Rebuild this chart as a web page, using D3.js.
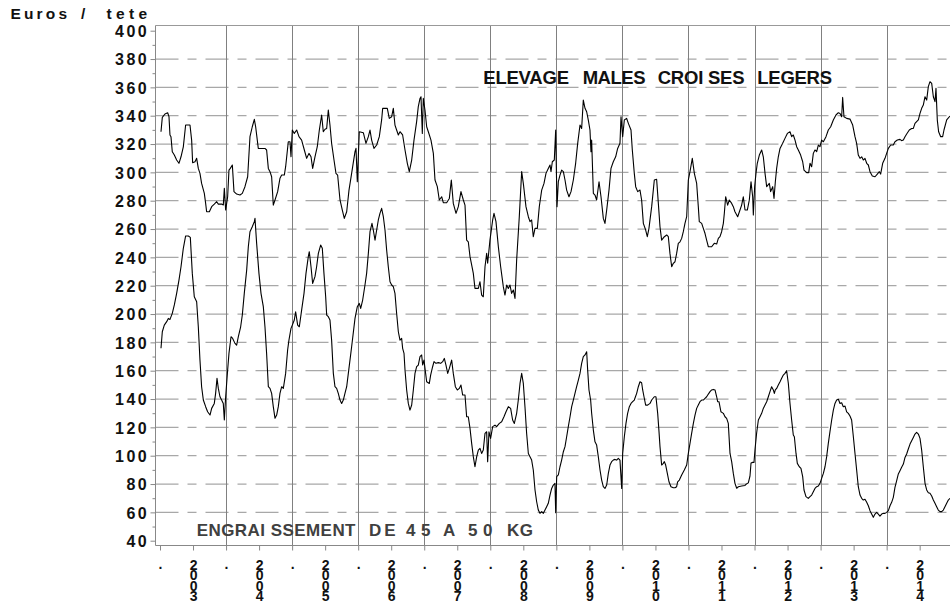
<!DOCTYPE html>
<html><head><meta charset="utf-8">
<script src="https://cdn.jsdelivr.net/npm/d3@7"></script>
<style>
html,body{margin:0;padding:0;background:#fff;}
svg{display:block;font-family:"Liberation Sans",Arial,sans-serif;}
</style></head><body>
<svg id="chart" width="950" height="606"></svg>
<script>
// ---------------- DATA ----------------
const upperDates = [
2003.015,2003.035,2003.075,2003.116,2003.136,2003.151,2003.166,2003.186,2003.217,2003.252,2003.287,2003.318,2003.353,2003.388,2003.454,2003.479,2003.494,2003.530,2003.555,2003.580,2003.605,2003.630,2003.671,2003.691,2003.706,2003.747,2003.782,2003.822,2003.858,2003.883,2003.933,2003.958,2003.974,2003.994,
2004.024,2004.044,2004.064,2004.095,2004.120,2004.160,2004.211,2004.246,2004.286,2004.327,2004.362,2004.397,2004.428,2004.448,2004.488,2004.529,2004.589,2004.614,2004.640,2004.665,2004.690,2004.715,2004.741,2004.781,2004.816,2004.842,2004.882,2004.902,2004.942,2004.968,2004.983,
2005.003,2005.033,2005.069,2005.104,2005.144,2005.185,2005.220,2005.255,2005.286,2005.311,2005.346,2005.381,2005.412,2005.447,2005.472,2005.498,2005.523,2005.548,2005.573,2005.598,2005.634,2005.664,2005.689,2005.725,2005.760,2005.790,2005.826,2005.861,2005.901,2005.952,2005.967,2005.987,
2006.017,2006.078,2006.118,2006.154,2006.179,2006.204,2006.239,2006.280,2006.320,2006.355,2006.371,2006.441,2006.471,2006.507,2006.532,2006.557,2006.582,2006.608,2006.633,2006.673,2006.709,2006.744,2006.774,2006.810,2006.845,2006.885,2006.910,2006.936,2006.951,2006.971,2006.986,
2007.011,2007.037,2007.062,2007.102,2007.138,2007.163,2007.198,2007.228,2007.264,2007.289,2007.339,2007.380,2007.410,2007.440,2007.481,2007.516,2007.556,2007.592,2007.617,2007.642,2007.667,2007.693,2007.723,2007.743,2007.768,2007.819,2007.844,2007.869,2007.894,2007.920,2007.945,2007.960,2007.995,
2008.036,2008.056,2008.086,2008.122,2008.157,2008.197,2008.222,2008.248,2008.273,2008.298,2008.323,2008.349,2008.374,2008.399,2008.439,2008.475,2008.500,2008.540,2008.576,2008.601,2008.626,2008.651,2008.677,2008.712,2008.742,2008.778,2008.813,2008.843,2008.878,2008.904,2008.919,2008.939,2008.969,2008.990,
2009.010,2009.030,2009.055,2009.080,2009.106,2009.131,2009.156,2009.191,2009.222,2009.257,2009.292,2009.323,2009.358,2009.383,2009.408,2009.434,2009.459,2009.484,2009.509,2009.524,2009.534,2009.560,2009.585,2009.610,2009.646,2009.676,2009.711,2009.736,2009.762,2009.797,2009.827,2009.862,2009.898,2009.928,2009.963,2009.979,
2010.004,2010.029,2010.064,2010.090,2010.130,2010.150,2010.180,2010.201,2010.231,2010.266,2010.291,2010.317,2010.352,2010.377,2010.402,2010.443,2010.483,2010.518,2010.544,2010.569,2010.594,2010.635,2010.670,2010.695,2010.720,2010.746,2010.771,2010.796,2010.821,2010.846,2010.872,2010.897,2010.922,2010.947,2010.973,2010.998,
2011.023,2011.058,2011.089,2011.124,2011.149,2011.164,2011.200,2011.225,2011.250,2011.275,2011.301,2011.351,2011.391,2011.427,2011.452,2011.477,2011.502,2011.528,2011.543,2011.563,2011.593,2011.618,2011.654,2011.679,2011.704,2011.745,2011.780,2011.805,2011.830,2011.856,2011.891,2011.921,2011.947,2011.972,2011.982,
2012.002,2012.022,2012.042,2012.073,2012.108,2012.133,2012.159,2012.184,2012.224,2012.244,2012.275,2012.295,2012.315,2012.335,2012.360,2012.386,2012.426,2012.461,2012.497,2012.537,2012.562,2012.587,2012.613,2012.638,2012.663,2012.698,2012.729,2012.749,2012.789,2012.820,2012.840,2012.865,2012.890,2012.915,2012.941,2012.966,2012.991,
2013.016,2013.042,2013.082,2013.117,2013.153,2013.193,2013.233,2013.269,2013.294,2013.319,2013.334,2013.354,2013.395,2013.445,2013.486,2013.521,2013.546,2013.571,2013.597,2013.622,2013.647,2013.672,2013.698,2013.723,2013.748,2013.783,2013.824,2013.859,2013.889,2013.909,2013.940,2013.975,
2014.000,2014.026,2014.061,2014.101,2014.126,2014.162,2014.202,2014.227,2014.253,2014.278,2014.303,2014.343,2014.379,2014.404,2014.429,2014.454,2014.480,2014.505,2014.530,2014.555,2014.581,2014.606,2014.631,2014.656,2014.682,2014.707,2014.732,2014.747,2014.767,2014.787,2014.818,2014.848,2014.868,2014.909,2014.959
];
const upperValues = [
328.7,338.8,341.2,342.1,339.3,326.4,325.2,314.6,312.2,308.7,306.4,311,318,333.4,333.4,322.8,306.8,307.5,309.9,302.8,299.3,292.2,285.2,278.1,272.2,272.2,275.8,277.6,279.3,277.6,277.6,277,288.7,273.4,
282.8,301.6,302.8,305.2,286.4,284.7,284,285.2,289.9,296.9,325.2,332.2,337.4,332.2,316.9,316.9,316.9,315.8,302.8,300.5,296.9,276.9,280.5,286.4,295.8,298.1,298.1,304,321.6,321.6,311,
329.9,327.5,329.9,325.2,322.8,315.8,309.9,313.4,311,302.8,311,318.1,329.9,340.5,328.7,330.4,331,344,333.4,320.5,308.7,299.3,298.1,280.5,273.4,267.5,272.2,287.5,299.3,314.6,317,293.4,
328.7,328,320.5,325.2,329.9,322.8,316.9,319.3,325.2,337,345.2,345.2,338.1,339.3,345.2,333.4,329.9,326.4,328.7,326.4,315.8,306.4,300.5,308.7,322.8,335.8,346.4,352.2,353.4,327.5,352.2,
344,332.2,328.7,322.8,313.4,294.6,289.9,280.5,282.8,278.6,278.6,281.6,294.6,278.1,271.1,275.8,286.4,280.5,276.9,252.2,251,240.5,233.4,228.7,218.1,218.1,222.8,213.4,212.2,233.4,242.8,235.8,252.2,
266.4,271.1,265.2,247.5,233.4,219.3,213.4,220.5,218.1,220.5,214.6,217,211,238.1,268.7,300.5,292.2,275.8,268.7,265.2,266.4,254.6,260.5,260.5,275.8,287.5,292.2,299.3,302.8,305.2,300.5,307.5,308.7,329.9,
275.8,293.4,298.1,301.6,300.5,294.6,287.5,282.8,286.4,294.6,306.4,320.5,333.4,331,351,345.2,342.8,336.9,329.9,314.6,322.8,285.2,284,280.5,293.4,282.8,267.5,264,273.4,287.5,302.8,307.5,311,316.9,320.5,339.3,
325.2,337,338.1,334.6,329.9,315.8,299.3,289.9,286.4,287.5,280.5,264,259.3,254.6,260.5,275.8,294.6,295.1,278.1,261.6,252.2,254.6,255.8,254.6,242.8,233.4,235.8,236.9,242.8,249.9,251,253.4,258.1,264,268.7,294.6,
300.5,309.9,299.3,292.2,275.8,265.2,264,260.5,257,252.2,247.5,247.5,249.9,249.4,253.4,254.6,258.1,264,271.1,282.8,276.9,280.5,278.1,275.8,272.2,268.7,273.4,276.9,282.8,273.4,273.4,280.5,293.4,282.8,269.9,
289.9,299.3,306.4,312.2,315.8,311,299.3,289.9,292.2,286.4,289.9,281.6,293.4,302.8,311,316.9,320.5,324,327.5,328.7,325.2,326.4,322.8,318.1,315.8,312.2,307.5,301.6,299.8,299.8,306.4,304,313.4,315.8,314.6,319.3,318.1,
322.8,321.6,325.2,329.9,332.2,337,340.5,342.1,341.6,339.3,352.9,339.3,338.1,337.6,333.4,325.2,320.5,312.2,309.9,311,308.7,309.9,306.4,305.2,300.5,297.4,296.9,298.8,300.5,298.8,306.4,309.9,
313.4,316.9,319.3,319.3,321.6,322.8,323.3,322.4,322.8,325.2,327.1,329.9,331,331,334.6,335.8,337,341.6,345.2,347.5,353.4,351,360.5,364,362.8,353.4,349.9,359.3,336.9,328.7,325.2,325.2,329.9,337,339.8
];
const lowerDates = [
2003.015,2003.035,2003.065,2003.101,2003.126,2003.151,2003.186,2003.217,2003.252,2003.287,2003.318,2003.353,2003.388,2003.429,2003.459,2003.489,2003.519,2003.555,2003.580,2003.605,2003.630,2003.656,2003.691,2003.721,2003.757,2003.782,2003.822,2003.842,2003.863,2003.883,2003.908,2003.933,2003.958,2003.974,2003.994,
2004.024,2004.044,2004.075,2004.100,2004.135,2004.160,2004.186,2004.221,2004.246,2004.276,2004.312,2004.337,2004.362,2004.397,2004.428,2004.438,2004.463,2004.498,2004.529,2004.564,2004.589,2004.614,2004.640,2004.665,2004.690,2004.715,2004.741,2004.766,2004.791,2004.816,2004.842,2004.867,2004.902,2004.932,2004.952,2004.983,
2005.003,2005.033,2005.053,2005.084,2005.109,2005.144,2005.180,2005.210,2005.245,2005.260,2005.286,2005.311,2005.346,2005.371,2005.397,2005.432,2005.457,2005.482,2005.508,2005.523,2005.548,2005.573,2005.598,2005.624,2005.649,2005.674,2005.699,2005.725,2005.750,2005.775,2005.800,2005.826,2005.851,2005.876,2005.901,2005.952,2005.987,
2006.017,2006.038,2006.068,2006.103,2006.128,2006.154,2006.179,2006.209,2006.229,2006.255,2006.280,2006.305,2006.330,2006.355,2006.381,2006.406,2006.431,2006.456,2006.482,2006.507,2006.532,2006.557,2006.582,2006.608,2006.633,2006.658,2006.673,2006.694,2006.709,2006.734,2006.759,2006.784,2006.810,2006.835,2006.860,2006.885,2006.910,2006.936,2006.961,2006.976,2006.996,
2007.021,2007.037,2007.077,2007.097,2007.127,2007.148,2007.178,2007.213,2007.249,2007.279,2007.304,2007.329,2007.355,2007.380,2007.415,2007.440,2007.471,2007.501,2007.531,2007.556,2007.582,2007.617,2007.642,2007.667,2007.693,2007.718,2007.743,2007.768,2007.794,2007.819,2007.844,2007.869,2007.894,2007.920,2007.945,2007.960,2007.980,
2008.005,2008.036,2008.071,2008.096,2008.137,2008.172,2008.207,2008.238,2008.273,2008.308,2008.338,2008.364,2008.399,2008.424,2008.450,2008.475,2008.500,2008.525,2008.550,2008.576,2008.601,2008.626,2008.651,2008.677,2008.702,2008.727,2008.752,2008.778,2008.803,2008.828,2008.853,2008.878,2008.904,2008.929,2008.954,2008.979,2008.990,
2009.005,2009.030,2009.055,2009.080,2009.106,2009.131,2009.156,2009.181,2009.207,2009.232,2009.257,2009.282,2009.307,2009.333,2009.358,2009.383,2009.408,2009.434,2009.459,2009.474,2009.494,2009.519,2009.534,2009.560,2009.585,2009.610,2009.635,2009.661,2009.686,2009.711,2009.736,2009.762,2009.787,2009.812,2009.837,2009.862,2009.888,2009.913,2009.938,2009.963,2009.989,
2010.004,2010.029,2010.054,2010.079,2010.105,2010.130,2010.155,2010.180,2010.216,2010.241,2010.266,2010.291,2010.307,2010.327,2010.352,2010.382,2010.418,2010.443,2010.483,2010.508,2010.534,2010.554,2010.569,2010.594,2010.619,2010.635,2010.655,2010.680,2010.705,2010.735,2010.771,2010.796,2010.821,2010.836,2010.862,2010.897,2010.937,2010.973,2010.998,
2011.023,2011.048,2011.074,2011.099,2011.124,2011.149,2011.174,2011.200,2011.225,2011.250,2011.275,2011.301,2011.326,2011.351,2011.376,2011.402,2011.427,2011.442,2011.462,2011.492,2011.528,2011.553,2011.578,2011.603,2011.629,2011.654,2011.679,2011.704,2011.730,2011.755,2011.805,2011.856,2011.871,2011.906,2011.931,2011.947,2011.972,2011.992,
2012.007,2012.032,2012.058,2012.083,2012.108,2012.133,2012.159,2012.184,2012.209,2012.234,2012.259,2012.285,2012.300,2012.315,2012.335,2012.360,2012.386,2012.411,2012.436,2012.461,2012.486,2012.512,2012.537,2012.562,2012.587,2012.603,2012.628,2012.648,2012.678,2012.703,2012.729,2012.749,2012.779,2012.814,2012.840,2012.865,2012.890,2012.915,2012.941,2012.966,2012.991,
2013.016,2013.042,2013.067,2013.092,2013.117,2013.142,2013.168,2013.193,2013.218,2013.243,2013.269,2013.294,2013.319,2013.344,2013.370,2013.395,2013.420,2013.445,2013.470,2013.496,2013.521,2013.546,2013.571,2013.597,2013.622,2013.647,2013.672,2013.698,2013.723,2013.748,2013.773,2013.798,2013.824,2013.849,2013.874,2013.899,2013.925,2013.950,2013.975,
2014.000,2014.026,2014.051,2014.076,2014.101,2014.126,2014.152,2014.177,2014.202,2014.227,2014.253,2014.278,2014.303,2014.328,2014.354,2014.379,2014.404,2014.429,2014.454,2014.480,2014.505,2014.530,2014.555,2014.581,2014.606,2014.631,2014.656,2014.682,2014.707,2014.732,2014.757,2014.782,2014.808,2014.833,2014.858,2014.883,2014.909,2014.934,2014.959
];
const lowerValues = [
175.8,187.5,192.2,194.6,196.9,196.2,200.5,206.4,214.6,224,233.4,246.4,255.1,255.1,254.1,228.7,212.2,208.7,191,167.5,148.7,139.3,134.6,131,128.7,133.4,136.9,144,154.6,147.5,141.6,139.3,136.9,125.2,141.6,
160.5,172.2,184,182.8,179.3,178.1,184,191,199.3,214.6,231,247.5,258.1,261.6,265.2,267.5,249.9,228.7,214.6,205.2,191,172.2,148.7,147.5,144,134.6,126.4,128.7,134.6,144,148.7,147.5,158.1,174.6,181.6,189.9,
192.2,195.8,201.6,192.2,191,202.8,214.6,228.7,240.5,244,233.4,221.6,226.4,233.4,242.8,248.7,246.4,228.7,212.2,199.3,198.1,195.8,181.6,158.1,148.7,147.5,144,139.3,136.9,139.3,144,148.7,158.1,167.5,176.9,196.9,205.2,
207.5,204,209.9,220.5,228.7,242.8,258.1,264,259.3,252.2,259.3,266.4,271.1,274.6,268.7,259.3,245.2,233.4,222.8,220.5,219.3,214.6,200.5,187.5,181.6,182.8,175.8,172.2,160.5,146.4,136.9,132.2,135.8,146.4,158.1,162.8,164,169.9,171.1,164,167.5,
158.1,152.2,151,156.9,162.8,166.4,165.2,165.7,165.2,166.4,168.7,164,158.1,161.6,167.5,158.1,148.7,146.4,147.5,149.9,142.8,142.8,127.5,127.5,119.3,108.7,99.3,92.2,99.3,104,105.2,101.6,104,115.8,116.9,95.8,116.9,
112.2,120.5,121.6,120.5,122.8,124,127.5,131,134.6,133.4,125.2,122.8,129.9,139.3,151,158.1,151,134.6,115.8,101.6,99.3,96.9,89.9,75.8,67.5,61.6,59.3,60.5,59.3,61.6,64,66.4,72.2,76.9,79.3,80.5,59.8,
85.2,86.4,92.2,96.9,102.8,106.4,113.4,120.5,127.5,134.6,139.3,144,148.7,153.4,158.1,165.2,169.9,171.1,173.4,160.5,146.4,139.3,130.1,118.1,109.8,107.5,99.3,89.9,82.8,78.1,76.9,79.3,87.5,93.4,95.8,96.9,97.4,96.9,98.1,96.9,76.9,
101.6,113.4,122.8,129.9,134.6,136.9,138.1,139.3,144,148.7,152.2,151.5,146.4,141.6,135.7,135.7,136.9,139.3,141.6,141.6,129.9,117,106.4,93.4,94.6,95.8,93.4,87.5,81.6,78.1,77.4,77.4,78.1,81.6,82.8,86.4,89.9,93.4,101.6,
108.7,115.8,122.8,128.7,133.4,135.8,138.1,139.3,139.3,140.5,141.6,143.5,145.2,146.4,146.8,146.4,141.6,138.1,138.1,131,129.9,127.5,126.3,122.8,101.6,95.8,87.5,80.5,77,78.1,78.6,79,79.8,80.8,85.5,94.9,95.3,95.3,
104.2,116,125.2,127.5,129.9,133.4,135.8,138.1,141.6,145.2,148.7,146.4,144,146.4,147.5,149.9,152.2,154.6,156.9,158.1,160,151,136.9,125.2,114.6,113.4,101.6,94.6,92.2,91.1,85.2,75.8,71.1,69.9,71.1,72.2,74.5,76.9,78.1,78.6,80.5,
84,87.5,92.2,99.3,108.7,117,125.2,132.2,136.9,139.3,139.8,136.9,137.4,134.6,135,131,129.9,128,125.2,113.4,101.6,89.9,78.1,72.2,69.9,68.7,69.2,67.1,64.7,61.2,58.8,56.5,58.8,60,58.8,57.4,58.8,59.3,59.3,
60,61.2,64.7,67.1,70.6,77.6,82.4,87.1,89.4,91.8,94.1,98.8,101.2,104.7,108.2,110.6,112.9,115.3,116.5,115.3,112.2,104,92.2,80.5,75.8,73.9,73.5,71.6,68.7,66.4,64,61.6,60.5,60.5,61.6,64,66.4,68.7,69.9
];
const yTicks = [40,60,80,100,120,140,160,180,200,220,240,260,280,300,320,340,360,380,400];
const yMinorTicks = [50,70,90,110,130,150,170,190,210,230,250,270,290,310,330,350,370,390];
const yGridValues = [60,80,100,120,140,160,180,200,220,240,260,280,300,320,340,360,380];
const xTickValues = [2003,2003.5,2004,2004.5,2005,2005.5,2006,2006.5,2007,2007.5,2008,2008.5,2009,2009.5,2010,2010.5,2011,2011.5,2012,2012.5,2013,2013.5,2014,2014.5];
const xTickLabels = [".","2003",".","2004",".","2005",".","2006",".","2007",".","2008",".","2009",".","2010",".","2011",".","2012",".","2013",".","2014"];
const xGridValues = [2004,2005,2006,2007,2008,2009,2010,2011,2012,2013,2014];
const yTitleWords = ["Euros","/","tete"];
const upperLabelWords = ["ELEVAGE","MALES","CROI SES","LEGERS"];
const lowerLabelWords = ["ENGRAI SSEMENT","DE","45","A","50","KG"];

// ---------------- LAYOUT ----------------
const L = 155.5, R = 950, T = 25.5, B = 545.5;
const svg = d3.select("#chart");
const x = d3.scaleLinear().domain([2003, 2015]).range([160, 952.7]);
const y = d3.scaleLinear().domain([40, 400]).range([540.7, 30.7]);

// horizontal dashed grid
svg.append("g").selectAll("line").data(yGridValues).join("line")
  .attr("x1", L).attr("x2", R).attr("y1", d => y(d)).attr("y2", d => y(d))
  .attr("stroke", "#a8a8a8").attr("stroke-width", 1.3)
  .attr("stroke-dasharray", "23,9,9,9");

// vertical grid
svg.append("g").selectAll("line").data(xGridValues).join("line")
  .attr("x1", d => Math.round(x(d)) + 0.5).attr("x2", d => Math.round(x(d)) + 0.5)
  .attr("y1", T).attr("y2", B)
  .attr("stroke", "#808080").attr("stroke-width", 1);

// frame
svg.append("line").attr("x1", L).attr("x2", R).attr("y1", T).attr("y2", T).attr("stroke", "#999").attr("stroke-width", 1);
svg.append("line").attr("x1", L).attr("x2", L).attr("y1", T).attr("y2", B).attr("stroke", "#888").attr("stroke-width", 1);
svg.append("line").attr("x1", L).attr("x2", R).attr("y1", B).attr("y2", B).attr("stroke", "#888").attr("stroke-width", 1);

// y axis
const gy = svg.append("g").attr("transform", `translate(${L},0)`)
  .call(d3.axisLeft(y).tickValues(yTicks).tickSize(5).tickPadding(6).tickFormat(d3.format("d")));
gy.select(".domain").remove();
gy.selectAll(".tick line").attr("stroke", "#888");
gy.selectAll(".tick text")
  .attr("font-family", '"Liberation Sans", Arial, sans-serif')
  .attr("font-size", 16).attr("font-weight", "bold").attr("fill", "#111")
  .attr("letter-spacing", "2.4px").attr("x", -6.5).attr("dy", "0.36em");
const gym = svg.append("g").attr("transform", `translate(${L},0)`)
  .call(d3.axisLeft(y).tickValues(yMinorTicks).tickSize(3).tickFormat(""));
gym.select(".domain").remove();
gym.selectAll(".tick line").attr("stroke", "#888");

// x axis
const gx = svg.append("g").attr("transform", `translate(0,${B})`)
  .call(d3.axisBottom(x).tickValues(xTickValues).tickSize(5).tickFormat((d, i) => xTickLabels[i]));
gx.select(".domain").remove();
gx.selectAll(".tick line").attr("stroke", "#888");
gx.selectAll(".tick text").each(function(d, i) {
  const t = d3.select(this);
  const label = xTickLabels[i];
  t.attr("font-family", '"Liberation Sans", Arial, sans-serif')
   .attr("font-size", 14).attr("font-weight", "bold").attr("fill", "#111");
  if (label.length > 1) {
    t.attr("y", 11).attr("dy", null).attr("text-anchor", "start")
     .style("writing-mode", "vertical-rl")
     .style("text-orientation", "upright")
     .attr("textLength", 47.6).attr("lengthAdjust", "spacing");
  } else {
    t.attr("y", 23).attr("dy", null);
  }
});

// series
const line = d3.line().x(d => x(d[0])).y(d => y(d[1]));
const upper = upperDates.map((d, i) => [d, upperValues[i]]);
const lower = lowerDates.map((d, i) => [d, lowerValues[i]]);
[upper, lower].forEach(s => {
  svg.append("path").datum(s).attr("d", line)
    .attr("fill", "none").attr("stroke", "#000").attr("stroke-width", 1.1)
    .attr("stroke-linejoin", "round");
});

// texts
function words(list, spans, baseline, size, color) {
  list.forEach((w, i) => {
    svg.append("text").attr("x", spans[i][0]).attr("y", baseline)
      .attr("font-size", size).attr("font-weight", "bold").attr("fill", color)
      .attr("textLength", spans[i][1] - spans[i][0]).attr("lengthAdjust", "spacing")
      .style("white-space", "pre")
      .text(w);
  });
}
words(yTitleWords, [[10.5, 67], [81, 89], [106.5, 147]], 18.5, 15.5, "#111");
words(upperLabelWords, [[483.3, 569], [582.7, 645.5], [657.7, 744.5], [757.3, 832]], 83.5, 18.5, "#111");
words(lowerLabelWords, [[196.7, 355.5], [369, 395.5], [406, 430.5], [443, 457], [468, 492.5], [507, 533]], 536, 17, "#404040");
</script>
</body></html>
